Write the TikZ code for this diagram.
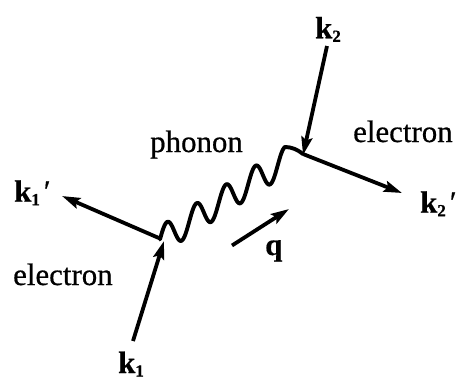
\documentclass[tikz,border=0pt]{standalone}
\usepackage{fontspec}
\setmainfont{Liberation Serif}[FakeBold=0.6]
\usetikzlibrary{arrows.meta}
\newcommand{\kvec}[1]{\textbf{k}\raisebox{-3.5bp}{\fontsize{17}{17}\selectfont\textbf{#1}}}
\newcommand{\kprime}{\kern4bp′}
\begin{document}
\begin{tikzpicture}[x=1bp,y=-1bp,
  lbl/.style={anchor=base west,inner sep=0pt,font=\fontsize{31}{31}\selectfont},
  elec/.style={line width=3.8bp,-{Stealth[length=18bp,width=11bp,inset=3bp]}},
  wave/.style={line width=3.9bp,line join=round,line cap=round}]
\useasboundingbox (0,0) rectangle (458,379);
% vertices and end points
\coordinate (V1) at (160,238.5);
\coordinate (V2) at (303,154);
\coordinate (k1s) at (133,341);
\coordinate (k1t) at (164,241);
\coordinate (k1pt) at (62,196);
\coordinate (k2s) at (327,46);
\coordinate (k2t) at (303,155);
\coordinate (k2pt) at (402,193);
\coordinate (qs) at (232,245.5);
\coordinate (qt) at (289,209);
% phonon line
\draw[wave] (V1) -- plot[domain=160:285,samples=160,smooth]
  (\x,{236-0.636*(\x-167)-14*cos(12.2034*(\x-167))})
  .. controls (292,147) and (298,150) .. (V2);
% electron lines
\draw[elec] (k1s) -- (k1t);
\draw[elec] (V1) -- (k1pt);
\draw[elec] (k2s) -- (k2t);
\draw[elec] (V2) -- (k2pt);
\draw[elec] (qs) -- (qt);
% labels
\node[lbl] (lk2) at (315,38.3) {\kvec{2}};
\node[lbl] (lk1p) at (14,201.7) {\kvec{1}\kprime};
\node[lbl] (lk2p) at (420,212.7) {\kvec{2}\kprime};
\node[lbl] (lk1) at (118,373) {\kvec{1}};
\node[lbl] (lq) at (265,255) {\textbf{q}};
\node[lbl] (lph) at (150,152) {phonon};
\node[lbl] (lel1) at (353,142) {electron};
\node[lbl] (lel2) at (13,285) {electron};
\end{tikzpicture}
\end{document}
